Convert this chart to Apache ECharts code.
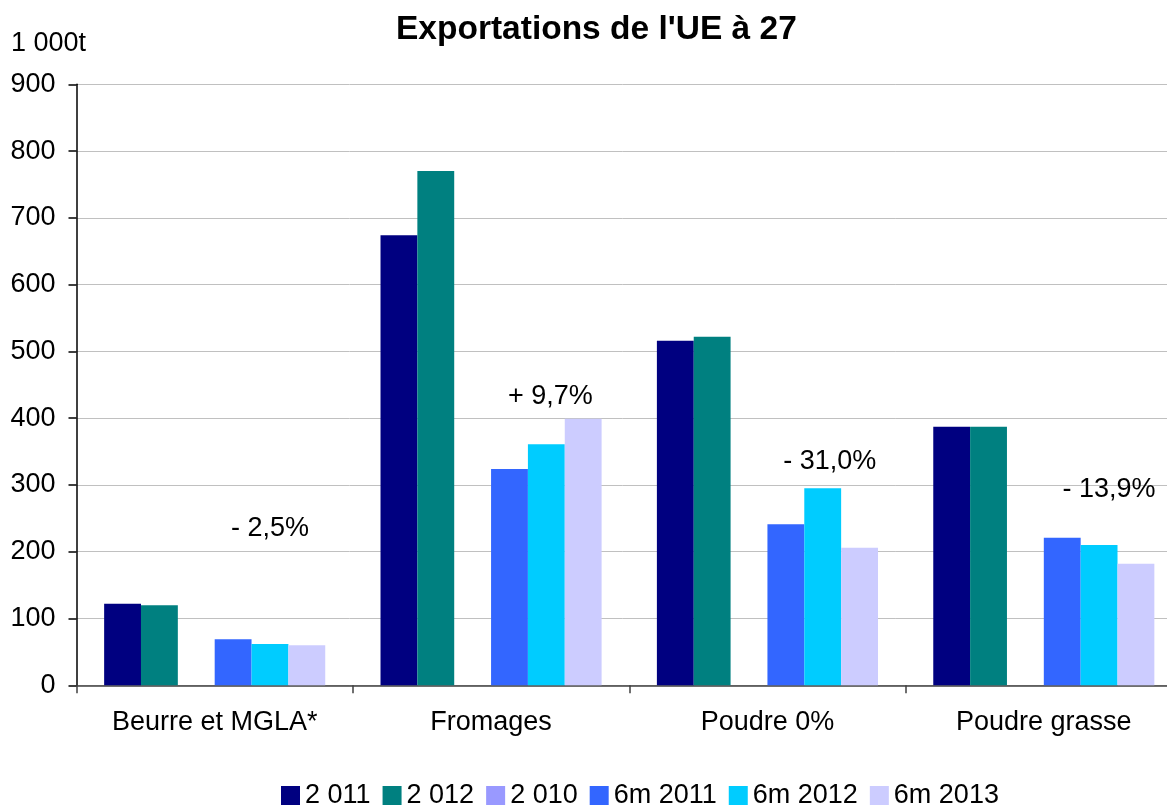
<!DOCTYPE html>
<html>
<head>
<meta charset="utf-8">
<script src="https://cdn.jsdelivr.net/npm/echarts@6/dist/echarts.min.js"></script>
<style>
html, body { margin: 0; padding: 0; background: #fff; }
#chart { width: 1167px; height: 805px; }
</style>
</head>
<body>
<div id="chart"></div>
<script>
var categories = ['Beurre et MGLA*', 'Fromages', 'Poudre 0%', 'Poudre grasse'];
var seriesNames = ['2 011', '2 012', '2 010', '6m 2011', '6m 2012', '6m 2013'];
var colors = ['#000080', '#008080', '#9999FF', '#3366FF', '#00CCFF', '#CCCCFF'];

var v2011 = [122, 674, 516, 387];
var v2012 = [120, 770, 522, 387];
var v2010 = [null, null, null, null];
var v6m2011 = [69, 324, 241, 221];
var v6m2012 = [62, 361, 295, 210];
var v6m2013 = [60, 399, 206, 182];

// variation labels, placed over the 6m 2012 bars
var changeLabels = ['- 2,5%', '+ 9,7%', '- 31,0%', '- 13,9%'];
var changeLevels = [234, 432, 335, 293];
var changeShift = [0, 4, 7, 10];

var values = [v2011, v2012, v2010, v6m2011, v6m2012, v6m2013];
var font = 'Liberation Sans, Arial, sans-serif';

var chart = echarts.init(document.getElementById('chart'));

var series = seriesNames.map(function (name, i) {
    var s = {
        name: name,
        type: 'bar',
        data: values[i],
        barGap: '0%',
        barCategoryGap: '20%',
        itemStyle: { color: colors[i] }
    };
    if (name === '6m 2012') {
        s.markPoint = {
            symbol: 'rect',
            symbolSize: 1,
            itemStyle: { color: 'rgba(0,0,0,0)' },
            label: {
                show: true,
                position: 'inside',
                color: '#000',
                fontSize: 27,
                fontFamily: font,
                formatter: function (p) { return p.name; }
            },
            data: changeLabels.map(function (t, k) {
                return {
                    name: t,
                    coord: [categories[k], changeLevels[k]],
                    label: { offset: [changeShift[k], 0] }
                };
            })
        };
    }
    return s;
});

var option = {
    animation: false,
    backgroundColor: '#fff',
    color: colors,
    title: {
        text: "Exportations de l'UE à 27",
        left: 391,
        top: 8,
        textStyle: { fontSize: 33.5, fontWeight: 'bold', color: '#000', fontFamily: font }
    },
    legend: {
        data: seriesNames,
        left: 276,
        top: 777,
        itemWidth: 19,
        itemHeight: 19,
        itemGap: 12,
        icon: 'rect',
        textStyle: { fontSize: 27, color: '#000', fontFamily: font }
    },
    grid: {
        left: 76.5,
        top: 84.3,
        right: -15,
        bottom: 119.7,
        containLabel: false,
        outerBoundsMode: 'none'
    },
    xAxis: {
        type: 'category',
        data: categories,
        axisLine: { lineStyle: { color: '#404040', width: 1.5 } },
        axisTick: { show: true, length: 8, lineStyle: { color: '#404040', width: 1.5 } },
        axisLabel: { margin: 24, fontSize: 27, color: '#000', fontFamily: font }
    },
    yAxis: {
        type: 'value',
        min: 0,
        max: 900,
        interval: 100,
        name: '1 000t',
        nameLocation: 'end',
        nameGap: 27,
        nameTextStyle: { fontSize: 27, color: '#000', fontFamily: font, align: 'center', padding: [0, 56, 0, 0] },
        axisLine: { show: true, lineStyle: { color: '#000', width: 1.5 } },
        axisTick: { show: true, length: 8, lineStyle: { color: '#000', width: 1.5 } },
        axisLabel: { margin: 21, fontSize: 27, color: '#000', fontFamily: font },
        splitLine: { lineStyle: { color: '#c0c0c0', width: 1 } }
    },
    series: series
};

chart.setOption(option);
</script>
</body>
</html>
